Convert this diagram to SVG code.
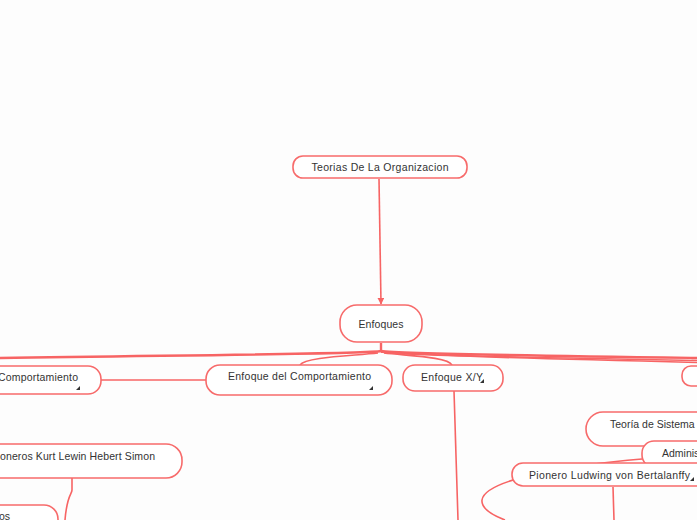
<svg xmlns="http://www.w3.org/2000/svg" width="697" height="520" viewBox="0 0 697 520">
<style>
.n{fill:#fff;stroke:#f76b6b;stroke-width:1.6}
.t{font-family:"Liberation Sans","DejaVu Sans",sans-serif;font-size:10.5px;fill:#333}
.c{fill:none;stroke:#f76464;stroke-width:1.6}
.b{fill:none;stroke:#f76464;stroke-width:2.4}
.m{fill:#333}
</style>
<defs>
<marker id="ah" viewBox="0 0 10 10" refX="9" refY="5" markerWidth="7" markerHeight="7" orient="auto" markerUnits="userSpaceOnUse">
<path d="M0,0 L10,5 L0,10 z" fill="#f76464"/>
</marker>
</defs>
<rect width="697" height="520" fill="#fdfdfd"/>
<g id="connectors">
<path class="c" d="M379,179 L381,304" marker-end="url(#ah)"/>
<path class="b" d="M381,343 L381,351"/>
<path class="b" d="M381,351 C370,354 200,355 0,358"/>
<path class="c" d="M378,353 C350,356 305,357 300,365"/>
<path class="c" d="M384,353 C410,356 448,357 452,365"/>
<path class="b" d="M381,351 C400,354 550,356 697,358"/>
<path class="c" d="M381,352 C400,355 550,358 697,360.5"/>
<path class="c" d="M381,352 C400,355 550,359 697,362.5"/>
<path class="c" d="M101,380 L206,380"/>
<path class="c" d="M454,391 L458,520"/>
<path class="c" d="M613,487 L614,520"/>
<path class="c" d="M642,459 C580,464 485,478 482,500 C481,508 492,515 505,520"/>
<path class="c" d="M72,478 L72,490 C72,494 67,495 65,520"/>
</g>
<g id="root">
<rect class="n" x="293" y="156" width="174" height="22" rx="10"/>
<text class="t" x="380" y="171" text-anchor="middle" textLength="137">Teorias De La Organizacion</text>
</g>
<g id="enfoques">
<rect class="n" x="340" y="305" width="82" height="37" rx="17"/>
<text class="t" x="381" y="328" text-anchor="middle" textLength="45">Enfoques</text>
</g>
<g id="comportamiento">
<rect class="n" x="-40" y="366" width="141" height="28" rx="13"/>
<text class="t" x="-2" y="381" textLength="80">Comportamiento</text>
<polygon class="m" points="80,386 80,390 76,390"/>
</g>
<g id="enfoque-comportamiento">
<rect class="n" x="206" y="365" width="186" height="30" rx="14"/>
<text class="t" x="228" y="380" textLength="143">Enfoque del Comportamiento</text>
<polygon class="m" points="373,386 373,390 369,390"/>
</g>
<g id="enfoque-xy">
<rect class="n" x="403" y="365" width="100" height="26" rx="12"/>
<text class="t" x="421" y="381" textLength="62">Enfoque X/Y</text>
<polygon class="m" points="484,379 484,383 480,383"/>
</g>
<g id="right-node">
<rect class="n" x="682" y="366" width="40" height="20" rx="9"/>
</g>
<g id="teoria-sistemas">
<rect class="n" x="586" y="412" width="140" height="34" rx="17"/>
<text class="t" x="610" y="428">Teoría de Sistema</text>
</g>
<g id="administracion">
<rect class="n" x="642" y="441" width="80" height="26" rx="12"/>
<text class="t" x="662" y="457">Adminis</text>
</g>
<g id="pionero">
<rect class="n" x="512" y="463" width="200" height="23" rx="11"/>
<text class="t" x="529" y="479" textLength="161">Pionero Ludwing von Bertalanffy</text>
<polygon class="m" points="694,477 694,481 690,481"/>
</g>
<g id="pioneros">
<rect class="n" x="-40" y="444" width="222" height="34" rx="16"/>
<text class="t" x="0" y="460" textLength="155">oneros Kurt Lewin Hebert Simon</text>
</g>
<g id="os">
<rect class="n" x="-40" y="505" width="98" height="30" rx="14"/>
<text class="t" x="-1" y="520">os</text>
</g>
</svg>
